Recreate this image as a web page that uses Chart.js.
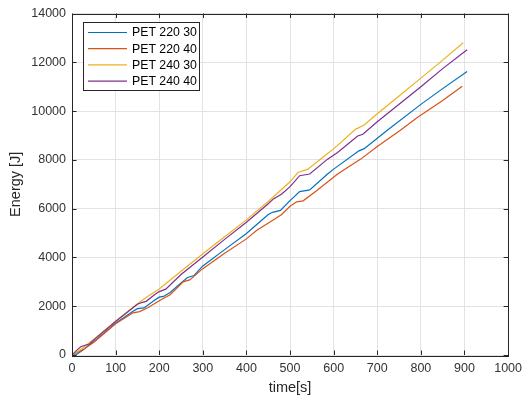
<!DOCTYPE html>
<html>
<head>
<meta charset="utf-8">
<script src="https://cdn.jsdelivr.net/npm/chart.js@4/dist/chart.umd.min.js"></script>
<style>
  html, body { margin: 0; padding: 0; background: #ffffff; }
  #wrap { width: 528px; height: 401px; }
</style>
</head>
<body>
<div id="wrap"><canvas id="c" width="528" height="401"></canvas></div>
<script>
// ---- data ----
const seriesLabels = ['PET 220 30', 'PET 220 40', 'PET 240 30', 'PET 240 40'];

const t220_30 = [0,10,25,40,50,100,140,150,165,190,200,210,225,250,265,280,300,350,400,450,460,478,500,522,545,586,600,658,670,723,800,850,906];
const e220_30 = [0,20,200,420,540,1300,1790,1900,1930,2250,2370,2400,2560,2950,3180,3260,3650,4320,4980,5760,5850,5930,6330,6700,6770,7420,7620,8370,8460,9210,10275,10920,11620];

const t220_40 = [0,25,50,100,140,155,175,200,225,255,270,300,350,400,423,465,480,500,515,530,560,609,662,700,753,791,850,895];
const e220_40 = [0,220,520,1280,1730,1780,1950,2220,2470,3000,3080,3540,4170,4760,5100,5580,5750,6100,6280,6320,6720,7420,8030,8550,9210,9730,10430,11020];

const t240_30 = [0,20,50,100,150,175,200,250,300,350,400,450,500,518,541,586,600,650,670,700,750,800,850,897];
const e240_30 = [0,230,650,1390,2100,2420,2710,3430,4150,4850,5540,6290,7100,7480,7620,8260,8450,9250,9430,9890,10620,11350,12090,12800];

const t240_40 = [0,10,20,30,40,50,100,150,160,170,190,200,215,250,300,350,400,450,462,481,500,522,545,586,609,655,667,700,750,800,850,906];
const e240_40 = [0,180,340,400,450,620,1370,2080,2150,2200,2480,2600,2700,3300,4020,4740,5440,6200,6400,6600,6900,7350,7420,8030,8300,8980,9050,9560,10280,11000,11740,12510];

const xTicks = [0,100,200,300,400,500,600,700,800,900,1000];
const yTicks = [0,2000,4000,6000,8000,10000,12000,14000];

const colors = ['#0072BD', '#D95319', '#EDB120', '#7E2F8E'];
const FONT = '"Liberation Sans", Arial, Helvetica, sans-serif';
const AXIS = '#262626';
const TICKTXT = '#333333';

function pts(ts, es) { return ts.map((t, i) => ({ x: t, y: es[i] })); }

const allT = [t220_30, t220_40, t240_30, t240_40];
const allE = [e220_30, e220_40, e240_30, e240_40];

const datasets = seriesLabels.map((lab, i) => ({
  label: lab,
  data: pts(allT[i], allE[i]),
  borderColor: colors[i],
  backgroundColor: colors[i],
  borderWidth: 1.2,
  pointRadius: 0,
  tension: 0,
  fill: false,
  order: 4 - i
}));

// box, inward ticks and in-axes legend (MATLAB style)
const matlabDecor = {
  id: 'matlabDecor',
  afterDraw(chart) {
    const { ctx, chartArea: a, scales } = chart;
    const xs = scales.x, ys = scales.y;
    ctx.save();
    ctx.strokeStyle = AXIS;
    ctx.lineWidth = 1;
    const tl = 4.5;
    ctx.beginPath();
    xTicks.forEach(v => {
      const px = Math.round(xs.getPixelForValue(v)) + 0.5;
      ctx.moveTo(px, a.bottom); ctx.lineTo(px, a.bottom - tl);
      ctx.moveTo(px, a.top); ctx.lineTo(px, a.top + tl);
    });
    yTicks.forEach(v => {
      const py = Math.round(ys.getPixelForValue(v)) + 0.5;
      ctx.moveTo(a.left, py); ctx.lineTo(a.left + tl, py);
      ctx.moveTo(a.right, py); ctx.lineTo(a.right - tl, py);
    });
    ctx.stroke();
    ctx.strokeRect(Math.round(a.left) + 0.5, Math.round(a.top) + 0.5,
                   Math.round(a.right - a.left), Math.round(a.bottom - a.top));
    // legend
    const bx = 83.5, by = 22.5, bw = 116, bh = 68;
    ctx.fillStyle = '#ffffff';
    ctx.fillRect(bx, by, bw, bh);
    ctx.strokeStyle = AXIS;
    ctx.strokeRect(bx, by, bw, bh);
    ctx.font = '12.3px ' + FONT;
    ctx.textBaseline = 'middle';
    ctx.textAlign = 'left';
    chart.data.datasets.forEach((ds, i) => {
      const y = 32.5 + i * 16.2;
      ctx.strokeStyle = ds.borderColor;
      ctx.lineWidth = 1.2;
      ctx.beginPath();
      ctx.moveTo(88, y); ctx.lineTo(127, y);
      ctx.stroke();
      ctx.fillStyle = '#000000';
      ctx.fillText(ds.label, 132, y + 0.5);
    });
    ctx.restore();
  }
};

new Chart(document.getElementById('c'), {
  type: 'line',
  data: { datasets },
  plugins: [matlabDecor],
  options: {
    responsive: false,
    animation: false,
    events: [],
    layout: { padding: { top: 12, right: 16, left: 0, bottom: 0 } },
    plugins: { legend: { display: false }, tooltip: { enabled: false } },
    scales: {
      x: {
        type: 'linear',
        min: 0, max: 1000,
        afterBuildTicks: s => { s.ticks = xTicks.map(v => ({ value: v })); },
        afterFit: s => { s.height = 46; },
        ticks: { color: TICKTXT, font: { family: FONT, size: 12.5 }, padding: 6, maxRotation: 0, autoSkip: false,
                 callback: v => String(v) },
        grid: { color: '#e3e3e3', drawTicks: false, lineWidth: 1 },
        border: { display: false },
        title: { display: true, text: 'time[s]', color: AXIS,
                 font: { family: FONT, size: 14.5, lineHeight: 1.2 },
                 padding: { top: 0, bottom: 4.3 } }
      },
      y: {
        type: 'linear',
        min: 0, max: 14000,
        afterBuildTicks: s => { s.ticks = yTicks.map(v => ({ value: v })); },
        afterFit: s => { s.width = 72; },
        ticks: { color: TICKTXT, font: { family: FONT, size: 12.5 }, padding: 6, autoSkip: false,
                 callback: v => String(v) },
        grid: { color: '#e3e3e3', drawTicks: false, lineWidth: 1 },
        border: { display: false },
        title: { display: true, text: 'Energy [J]', color: AXIS,
                 font: { family: FONT, size: 14.5, lineHeight: 1.2 },
                 padding: { top: 7.3, bottom: 0 } }
      }
    }
  }
});
</script>
</body>
</html>
